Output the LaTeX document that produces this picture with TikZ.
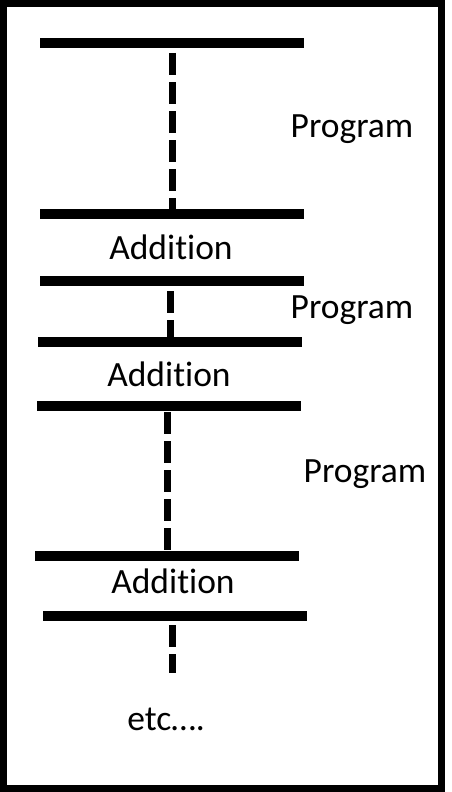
\documentclass[tikz,border=0pt]{standalone}
\usepackage{fontspec}
\setmainfont{Carlito}[Ligatures=NoCommon]
\usepackage{tikz}

\begin{document}
\begin{tikzpicture}[x=1pt,y=-1pt,
  bar/.style={line width=10pt},
  link/.style={line width=7pt, dash pattern=on 22pt off 7pt},
  lbl/.style={anchor=base, inner sep=0pt, font=\fontsize{35.5}{40}\selectfont}]
\useasboundingbox (0,0) rectangle (452,792);
\draw[line width=7pt] (3,3.5) rectangle (441.5,788.5);
% the bars
\coordinate (B1a) at (40,43);  \coordinate (B1b) at (304,43);
\coordinate (B2a) at (40,214); \coordinate (B2b) at (304,214);
\coordinate (B3a) at (40,281); \coordinate (B3b) at (304,281);
\coordinate (B4a) at (38,342); \coordinate (B4b) at (302,342);
\coordinate (B5a) at (37,406); \coordinate (B5b) at (301,406);
\coordinate (B6a) at (35,556); \coordinate (B6b) at (299,556);
\coordinate (B7a) at (43,616); \coordinate (B7b) at (307,616);
\foreach \i in {1,...,7}
  \draw[bar] (B\i a) -- (B\i b);
% the dashed links
\coordinate (L1a) at (172,53);  \coordinate (L1b) at (172,214);
\coordinate (L2a) at (170,291); \coordinate (L2b) at (170,342);
\coordinate (L3a) at (167,412); \coordinate (L3b) at (167,556);
\coordinate (L4a) at (172,625); \coordinate (L4b) at (172,673);
\foreach \i in {1,...,4}
  \draw[link] (L\i a) -- (L\i b);
% the labels
\node[lbl] (P1) at (352,137) {Program};
\node[lbl] (A1) at (171,259) {Addition};
\node[lbl] (P2) at (352,318) {Program};
\node[lbl] (A2) at (169,386) {Addition};
\node[lbl] (P3) at (365,482) {Program};
\node[lbl] (A3) at (173,593) {Addition};
\node[lbl] (E) at (166,730) {etc….};
\end{tikzpicture}
\end{document}
